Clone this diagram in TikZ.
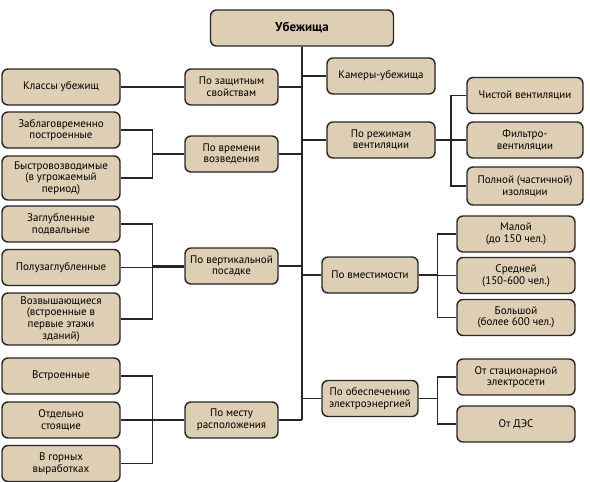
\documentclass[tikz,border=0pt]{standalone}
\usepackage{fontspec}
\setmainfont{PT Sans}
\usetikzlibrary{calc, positioning}
\definecolor{boxfill}{RGB}{221,206,180}

\begin{document}
\begin{tikzpicture}[x=1pt,y=-1pt,
  every node/.style={draw=black!85, fill=boxfill, rounded corners=6pt, line width=1.4pt,
    align=center, inner sep=2pt, font=\fontsize{11}{11.6}\selectfont},
  leaf/.style={minimum width=118pt, minimum height=36pt},
  group/.style={minimum width=93pt, minimum height=36pt},
  rgroup/.style={minimum width=108pt, minimum height=36pt},
  sgroup/.style={minimum width=96pt, minimum height=36pt},
  rleaf/.style={minimum width=116pt, minimum height=36pt},
  link/.style={line width=1.5pt, black!85}]
\useasboundingbox (0,0) rectangle (590,482);

\node[minimum width=183pt, minimum height=36pt, font=\fontsize{13}{14}\selectfont\bfseries] (top) at (302,28) {Убежища};

% left side
\node[group] (zasch) at (231.5,87) {По защитным\\свойствам};
\node[group] (vrem) at (231.5,154) {По времени\\возведения};
\node[group] (vert) at (231.5,266) {По вертикальной\\посадке};
\node[group] (mesto) at (231.5,420) {По месту\\расположения};

\node[leaf] (klass) at (61,87) {Классы убежищ};
\node[leaf] (zabl) at (61,130) {Заблаговременно\\построенные};
\node[leaf, minimum height=44pt] (bystr) at (61,178) {Быстровозводимые\\(в угрожаемый\\период)};
\node[leaf] (zagl) at (61,224) {Заглубленные\\подвальные};
\node[leaf] (poluz) at (61,267.5) {Полузаглубленные};
\node[leaf, minimum height=52pt] (vozv) at (61,319) {Возвышающиеся\\(встроенные в\\первые этажи\\зданий)};
\node[leaf] (vstr) at (61,376) {Встроенные};
\node[leaf] (otdel) at (61,420) {Отдельно\\стоящие};
\node[leaf] (gorn) at (61,463.5) {В горных\\выработках};

% right side
\node[rgroup] (kamery) at (381,76) {Камеры-убежища};
\node[rgroup] (rezh) at (381,140) {По режимам\\вентиляции};
\node[sgroup] (vmest) at (370,275) {По вместимости};
\node[sgroup] (elektr) at (370,398.5) {По обеспечению\\электроэнергией};

\node[rleaf] (chist) at (525,95.5) {Чистой вентиляции};
\node[rleaf] (filtr) at (525,140) {Фильтро-\\вентиляции};
\node[rleaf, minimum height=38pt] (poln) at (525,186) {Полной (частичной)\\изоляции};
\node[leaf] (mal) at (516,234) {Малой\\(до 150 чел.)};
\node[leaf] (sred) at (516,275.5) {Средней\\(150-600 чел.)};
\node[leaf] (bol) at (516,317.5) {Большой\\(более 600 чел.)};
\node[leaf] (stac) at (516,377) {От стационарной\\электросети};
\node[leaf] (des) at (516,424) {От ДЭС};

% trunk
\draw[link] (top.south -| top) -- (top |- mesto);
\foreach \g in {zasch, vrem, vert, mesto}
  \draw[link] (\g.east) -- (\g.east -| top);
\foreach \g in {kamery, rezh, vmest, elektr}
  \draw[link] (\g.west) -- (\g.west -| top);

% left brackets
\draw[link] (klass) -- (zasch);
\draw[link] (zabl.east) -| ($(zabl.east)!.5!(vrem.west)$) |- (vrem.west);
\draw[link] (bystr.east) -| ($(bystr.east)!.5!(vrem.west)$) |- (vrem.west);
\draw[link] (zagl.east) -| ($(zagl.east)!.5!(vert.west)$) |- (vert.west);
\draw[link] (poluz.east) -- (poluz.east -| vert.west);
\draw[link] (vozv.east) -| ($(vozv.east)!.5!(vert.west)$) |- (vert.west);
\draw[link] (vstr.east) -| ($(vstr.east)!.5!(mesto.west)$) |- (mesto.west);
\draw[link] (otdel) -- (mesto);
\draw[link] (gorn.east) -| ($(gorn.east)!.5!(mesto.west)$) |- (mesto.west);

% right brackets
\draw[link] (chist.west) -| ($(chist.west)!.5!(rezh.east)$) |- (rezh.east);
\draw[link] (filtr) -- (rezh);
\draw[link] (poln.west) -| ($(poln.west)!.5!(rezh.east)$) |- (rezh.east);
\draw[link] (mal.west) -| ($(mal.west)!.5!(vmest.east)$) |- (vmest.east);
\draw[link] (sred.west) -- (sred.west -| vmest.east);
\draw[link] (bol.west) -| ($(bol.west)!.5!(vmest.east)$) |- (vmest.east);
\draw[link] (stac.west) -| ($(stac.west)!.5!(elektr.east)$) |- (elektr.east);
\draw[link] (des.west) -| ($(des.west)!.5!(elektr.east)$) |- (elektr.east);
\end{tikzpicture}
\end{document}
